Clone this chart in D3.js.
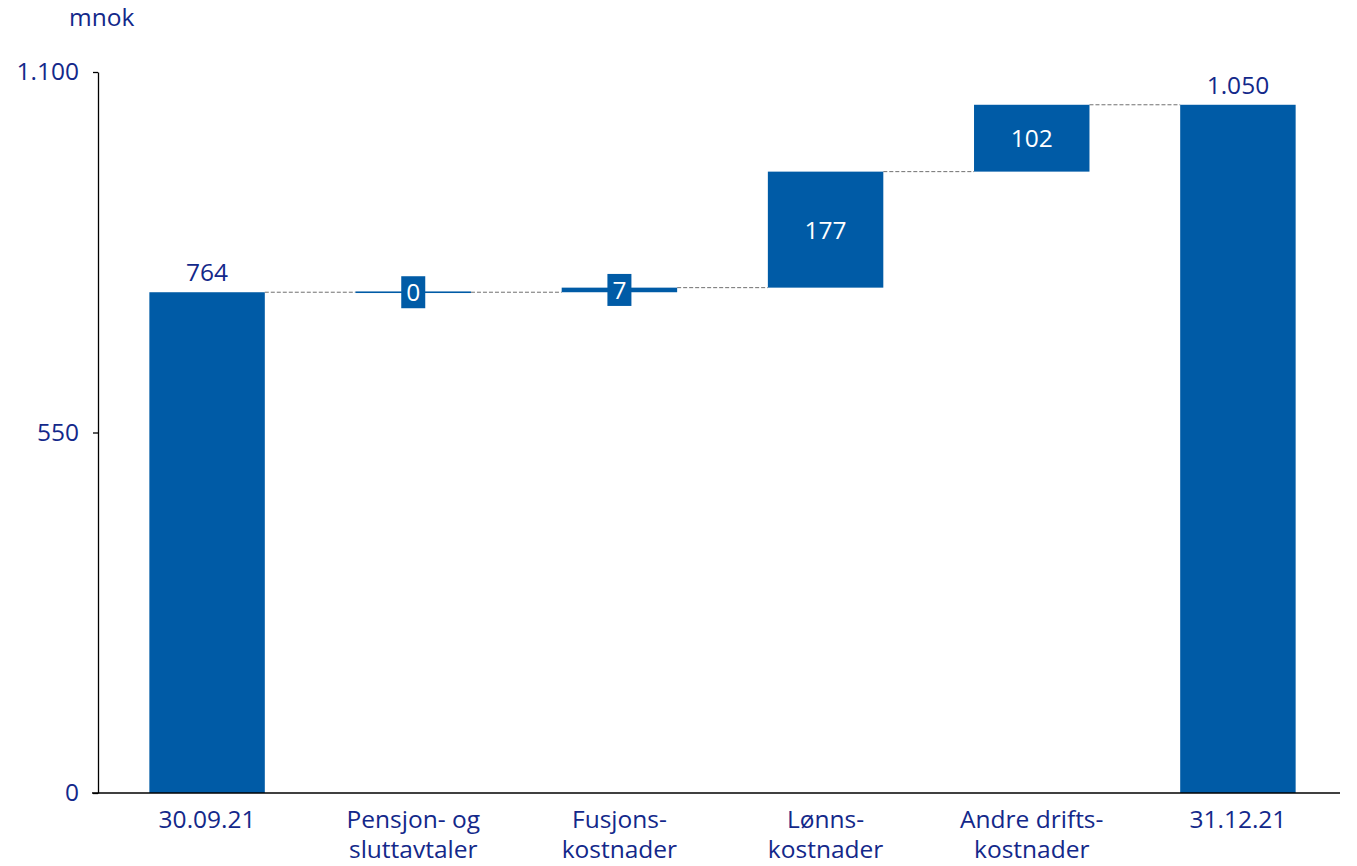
<!DOCTYPE html>
<html><head><meta charset="utf-8">
<script src="https://cdn.jsdelivr.net/npm/d3@7"></script>
<style>body{margin:0;background:#fff}text{font-family:"Open Sans",Lato,sans-serif}</style>
</head><body><svg id="c" width="1357" height="866"></svg>
<script>
const categories = [["30.09.21"],["Pensjon- og","sluttavtaler"],["Fusjons-","kostnader"],["Lønns-","kostnader"],["Andre drifts-","kostnader"],["31.12.21"]];
const values = [764, 0, 7, 177, 102, 1050];
const kinds = ["total","delta","delta","delta","delta","total"];
const valueLabels = ["764","0","7","177","102","1.050"];
const yTicks = [0, 550, 1100];
const yTickLabels = ["0","550","1.100"];

const svg = d3.select("#c");
const navy = "#13288a", blue = "#005ba6";
const FS = 24.5;
const x = d3.scaleBand().domain(d3.range(values.length)).range([104, 1341]).paddingInner(0.44).paddingOuter(0.22);
const y = d3.scaleLinear().domain([0, 1100]).range([793, 72]);

let cum = 0; const segs = [];
values.forEach((v,i)=>{
  if(kinds[i]==="total"){ segs.push({i,lo:0,hi:v}); cum=v; }
  else { segs.push({i,lo:cum,hi:cum+v}); cum+=v; }
});

for(let k=0;k<segs.length-1;k++){
  const lvl = segs[k].hi;
  svg.append("line").attr("x1",x(k)+x.bandwidth()).attr("x2",x(k+1))
    .attr("y1",y(lvl)).attr("y2",y(lvl))
    .attr("stroke","#707070").attr("stroke-width",1).attr("stroke-dasharray","4,2");
}

segs.forEach(s=>{
  const top=y(s.hi), bot=y(s.lo);
  const h=Math.max(bot-top,1.6);
  svg.append("rect").attr("x",x(s.i)).attr("width",x.bandwidth())
    .attr("y",s.hi===s.lo? top-0.8: top).attr("height",h).attr("fill",blue);
});

segs.forEach(s=>{
  const cx=x(s.i)+x.bandwidth()/2;
  if(kinds[s.i]==="total"){
    svg.append("text").attr("x",cx).attr("y",y(s.hi)-11).attr("text-anchor","middle")
      .attr("font-size",FS).attr("fill",navy).text(valueLabels[s.i]);
  } else {
    const mid=(y(s.hi)+y(s.lo))/2;
    const small = y(s.lo)-y(s.hi) < 30;
    if(small){
      const g=svg.append("g");
      g.append("rect").attr("fill",blue).attr("x",cx-12).attr("y",mid-16).attr("width",24).attr("height",32);
      g.append("text").attr("x",cx).attr("y",mid+9).attr("text-anchor","middle")
        .attr("font-size",FS).attr("fill","#fff").text(valueLabels[s.i]);
    } else {
      svg.append("text").attr("x",cx).attr("y",mid+9).attr("text-anchor","middle")
        .attr("font-size",FS).attr("fill","#fff").text(valueLabels[s.i]);
    }
  }
});

const yAxis = d3.axisLeft(y).tickValues(yTicks).tickFormat((d,i)=>yTickLabels[i]).tickSize(5).tickSizeOuter(0).tickPadding(14);
const ga = svg.append("g").attr("transform","translate(98,0)").call(yAxis);
ga.select(".domain").attr("stroke","#000").attr("stroke-width",1.3);
ga.selectAll(".tick line").attr("stroke","#000").attr("stroke-width",1.3);
ga.selectAll(".tick text").attr("font-size",FS).attr("fill",navy).attr("font-family","\"Open Sans\",Lato,sans-serif");

svg.append("line").attr("x1",92).attr("x2",1340).attr("y1",793).attr("y2",793).attr("stroke","#000").attr("stroke-width",1.3);

categories.forEach((lines,i)=>{
  const cx=x(i)+x.bandwidth()/2;
  const t=svg.append("text").attr("x",cx).attr("y",828).attr("text-anchor","middle")
    .attr("font-size",FS).attr("fill",navy);
  lines.forEach((l,j)=>t.append("tspan").attr("x",cx).attr("dy",j?30:0).text(l));
});

svg.append("text").attr("x",69).attr("y",26).attr("font-size",FS).attr("fill",navy).text("mnok");
</script></body></html>
